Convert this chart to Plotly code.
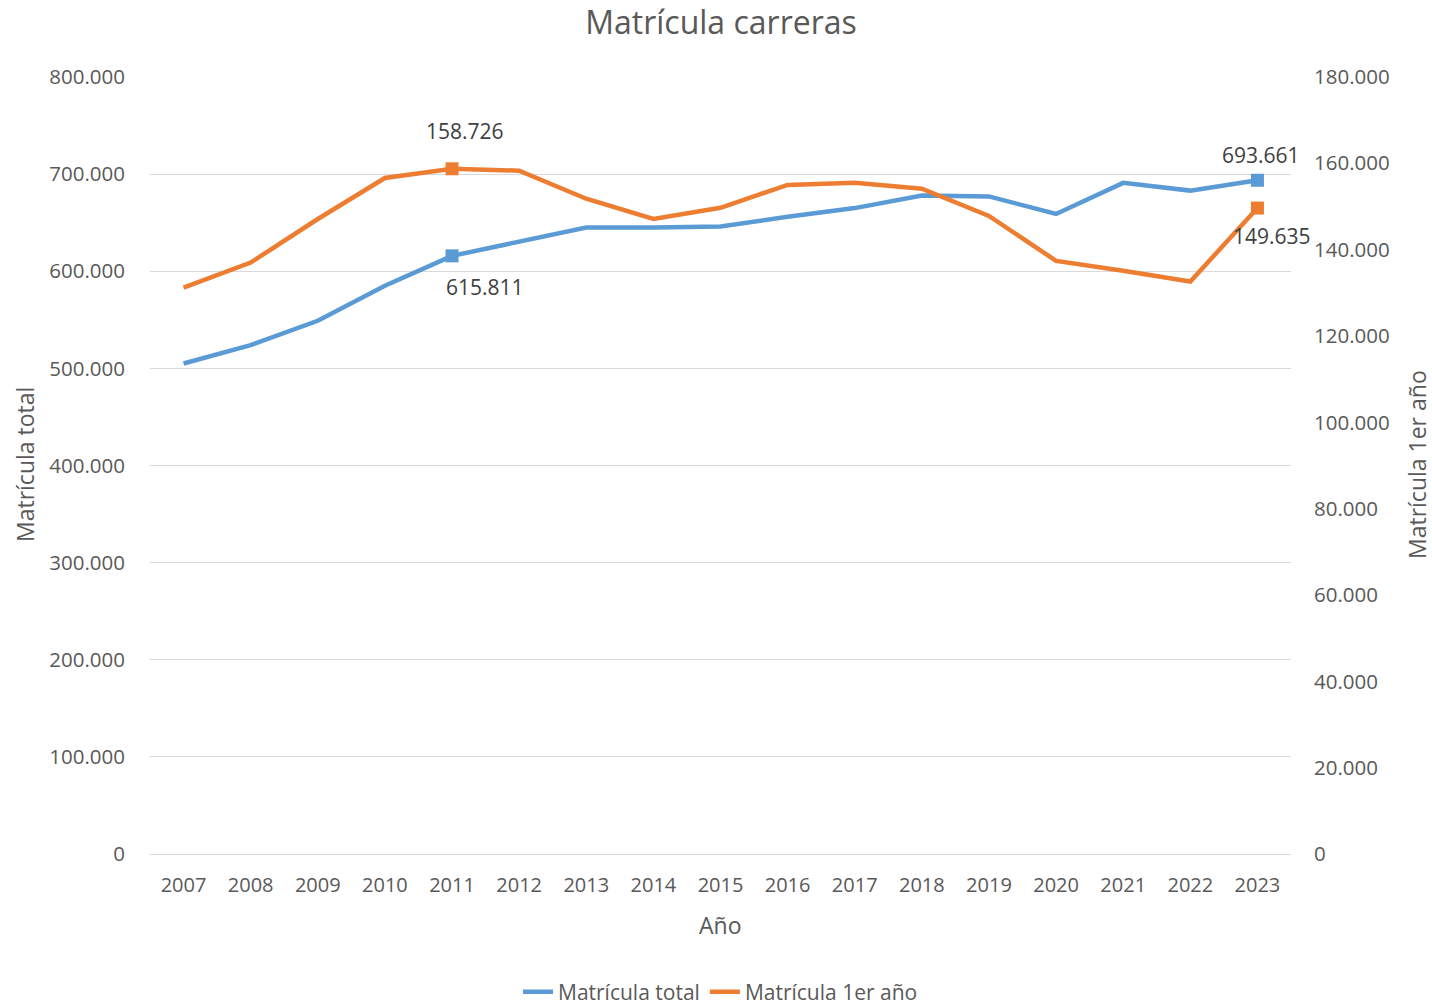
import plotly.graph_objects as go

years = list(range(2007, 2024))
matricula_total = [505000, 524000, 549000, 585000, 615811, 631000, 645000, 645000, 646000,
                   656000, 665000, 678000, 677000, 659000, 691000, 683000, 693661]
matricula_1er = [131200, 137000, 147100, 156600, 158726, 158300, 151800, 147100, 149700,
                 155000, 155500, 154100, 147800, 137400, 135100, 132600, 149635]

BLUE = "#5B9BD5"
ORANGE = "#ED7D31"
GRAY = "#595959"
FONT = "Open Sans"

fig = go.Figure()
fig.add_trace(go.Scatter(x=years, y=matricula_total, mode="lines", name="Matrícula total",
                         line=dict(color=BLUE, width=4.5), yaxis="y"))
fig.add_trace(go.Scatter(x=years, y=matricula_1er, mode="lines", name="Matrícula 1er año",
                         line=dict(color=ORANGE, width=4.5), yaxis="y2"))

# marked points
fig.add_trace(go.Scatter(x=[years[4], years[16]], y=[matricula_total[4], matricula_total[16]],
                         mode="markers", marker=dict(symbol="square", size=13, color=BLUE),
                         showlegend=False, yaxis="y", hoverinfo="skip"))
fig.add_trace(go.Scatter(x=[years[4], years[16]], y=[matricula_1er[4], matricula_1er[16]],
                         mode="markers", marker=dict(symbol="square", size=13, color=ORANGE),
                         showlegend=False, yaxis="y2", hoverinfo="skip"))

def fmt(v):
    return f"{v:,}".replace(",", ".")

ann_font = dict(family=FONT, size=21, color="#404040")
anns = [
    dict(x=years[4], y=matricula_1er[4], xref="x", yref="y2", text=fmt(matricula_1er[4]), xshift=13, yshift=38),
    dict(x=years[4], y=matricula_total[4], xref="x", yref="y", text=fmt(matricula_total[4]), xshift=33, yshift=-31),
    dict(x=years[16], y=matricula_total[16], xref="x", yref="y", text=fmt(matricula_total[16]), xshift=4, yshift=25),
    dict(x=years[16], y=matricula_1er[16], xref="x", yref="y2", text=fmt(matricula_1er[16]), xshift=15, yshift=-28),
]
for a in anns:
    a.update(showarrow=False, font=ann_font, xanchor="center", yanchor="middle")

title_font = dict(family=FONT, size=23, color=GRAY)
anns += [
    dict(text="Matrícula total", xref="paper", yref="paper", x=0, y=0.5, xshift=-125,
         xanchor="center", yanchor="middle", textangle=-90, showarrow=False, font=title_font),
    dict(text="Matrícula 1er año", xref="paper", yref="paper", x=1, y=0.5, xshift=126,
         xanchor="center", yanchor="middle", textangle=-90, showarrow=False, font=title_font),
    dict(text="Año", xref="paper", yref="paper", x=0.5, y=0, yshift=-71,
         xanchor="center", yanchor="middle", showarrow=False, font=title_font),
]

W, H = 1432, 1007
fig.update_layout(
    width=W, height=H,
    margin=dict(l=150, r=141, t=76, b=153, autoexpand=False),
    paper_bgcolor="white", plot_bgcolor="white",
    separators=",.",
    font=dict(family=FONT, color=GRAY, size=20),
    title=dict(text="Matrícula carreras", x=721 / W, xanchor="center",
               y=1 - 23 / H, yanchor="middle",
               font=dict(family=FONT, size=32, color=GRAY)),
    xaxis=dict(range=[2006.5, 2023.5], tickmode="array", tickvals=years, showgrid=False,
               showline=True, linecolor="#D9D9D9", linewidth=1.3, ticks="", zeroline=False,
               tickfont=dict(size=20, color=GRAY), ticklabelstandoff=13, automargin=False),
    yaxis=dict(range=[0, 801000], tickvals=list(range(0, 800001, 100000)), tickformat=",.0f",
               showgrid=True, gridcolor="#D9D9D9", gridwidth=1.3, zeroline=False, showline=False,
               tickfont=dict(size=20.5, color=GRAY), ticklabelstandoff=24, automargin=False),
    yaxis2=dict(range=[0, 180225], tickvals=list(range(0, 180001, 20000)), tickformat=",.0f",
                overlaying="y", side="right", showgrid=False, zeroline=False, showline=False,
                tickfont=dict(size=20.5, color=GRAY), ticklabelstandoff=22, automargin=False),
    legend=dict(orientation="h", x=0.5, xanchor="center", y=-0.1775, yanchor="middle",
                font=dict(size=21, color=GRAY), tracegroupgap=0),
    annotations=anns,
    showlegend=True,
)

# remove the browser's default 8px body margin so the figure fills the window exactly
fig.write_html("out.html", config={"displayModeBar": False},
               post_script="document.body.style.margin='0';document.body.style.overflow='hidden';")
